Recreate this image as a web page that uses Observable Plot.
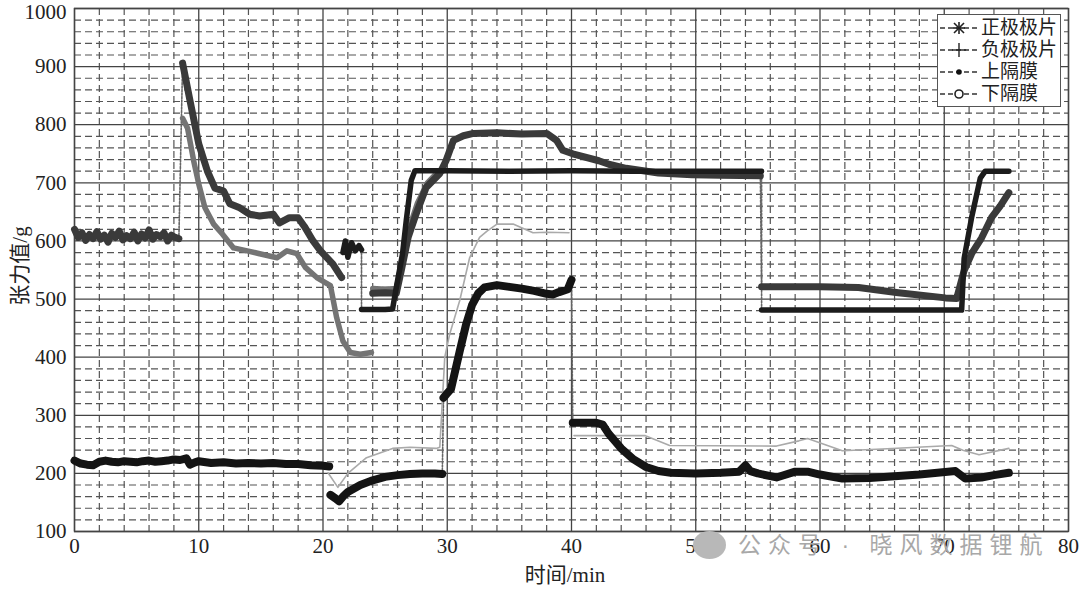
<!DOCTYPE html>
<html>
<head>
<meta charset="utf-8">
<script src="https://cdn.jsdelivr.net/npm/d3@7"></script>
<script src="https://cdn.jsdelivr.net/npm/@observablehq/plot@0.6"></script>
<style>
  body { margin: 0; background: #fff; }
  #wrap { position: relative; width: 1080px; height: 589px; overflow: hidden; }
  .lbl { position: absolute; font-family: "Liberation Serif", "Noto Sans CJK SC", serif; font-size: 21px; color: #222; white-space: nowrap; }
  #legend { position: absolute; left: 937px; top: 14px; width: 124px; height: 93px; background: #fff; border: 1px solid #555; box-sizing: border-box; }
  .li { position: absolute; left: 0; height: 22px; display: flex; align-items: center; }
  .li span { font-family: "Liberation Serif", "Noto Sans CJK SC", serif; font-size: 19px; line-height: 22px; color: #222; }
  #wm { position: absolute; left: 738px; top: 532px; line-height: 26px; font-family: "Liberation Sans", "Noto Sans CJK SC", sans-serif; font-size: 23px; letter-spacing: 7px; color: #a8a8a8; white-space: nowrap; }
  #logo { position: absolute; left: 693px; top: 531px; width: 33px; height: 28px; border-radius: 50%; background: #b8b8b8; }
</style>
</head>
<body>
<div id="wrap"></div>
<script>
// ---------- tick labels ----------
const xTicks = [0, 10, 20, 30, 40, 50, 60, 70, 80];
const yTicks = [100, 200, 300, 400, 500, 600, 700, 800, 900, 1000];

// null = break joined by a thin dotted link, NaN = plain break
// 正极极片
const pos_t = [0,0.3,0.6,0.9,1.2,1.5,1.8,2.1,2.4,2.7,3,3.3,3.6,3.9,4.2,4.5,4.8,5.1,5.4,5.7,6,6.3,6.6,6.9,7.2,7.5,7.8,8.1,8.4,
  8.5,
  8.7,9.3,10,10.7,11.3,12,12.5,13.3,14.1,14.9,16,16.5,17.3,18,18.5,19.2,19.8,20.8,21.5,
  22,
  24,25,25.9,26.3,26.85,27.5,28.3,29.4,29.9,30.5,31.3,32.1,34,36,38,38.8,39.3,40.1,42.2,43,44.4,47,49.7,52,55.2,
  55.25,
  55.3,60,63.1,66.3,70.1,71,71.6,72.2,73,73.8,74.5,75.2];
const pos_v = [620,606,614,601,611,604,616,603,610,598,613,606,617,602,609,604,615,600,612,605,619,603,611,607,614,600,610,606,604,
  null,
  906,841,767,720,691,686,664,657,646,643,646,631,640,640,625,600,583,560,537,
  NaN,
  510,511,510,549,606,647,692,716,738,773,781,785,786,784,785,773,756,750,738,732,725,717,714,713,712,
  null,
  521,521,520,511,502,501,549,578,605,640,660,683];

// 负极极片
const neg_t = [8.7,9.1,9.6,10,10.5,11.2,11.9,12.8,13.9,14.9,16.3,17.1,17.9,18.6,19.5,20.6,21.1,21.6,22.2,23,23.9,
  23.95,
  24,25,25.9,26.3,26.9,27.6,28.4,29.3,29.8];
const neg_v = [811,794,737,698,657,629,612,588,583,578,571,583,578,554,537,523,468,428,408,405,408,
  NaN,
  518,517,518,560,620,665,700,720,721];

// 上隔膜
const up_t = [21.6,21.8,22.0,22.3,22.6,22.9,23.1,
  23.1,
  23.1,24,25,25.6,25.9,26.4,26.7,27.1,27.4,30,35,40,45,50,55.3,
  55.3,
  55.3,60,65,71.4,71.6,72.2,72.9,73.3,75.2];
const up_v = [580,600,572,597,583,592,585,
  null,
  482,482,482,483,520,578,635,704,721,721,720,721,720,720,720,
  null,
  481,481,481,481,570,640,708,720,720];

// 下隔膜
const low_t = [0,0.5,1,1.5,2,2.5,3,3.5,4,4.5,5,5.5,6,6.5,7,7.5,8,8.5,9,9.3,9.7,10,11,12,13,14,15,16,17,18,19,20,20.5,
  20.55,
  20.6,21,21.3,21.6,22,23,24,25,26,27,28,29,29.6,
  29.65,
  29.7,30,30.3,31,31.5,32,32.5,33,34,35,36,37,38,38.5,39,39.7,40,
  40.05,
  40.1,42,42.5,43,44,45,46,47,48,50,52,53.5,54,54.4,55,56.5,58,59,60,61.8,64,66,68,70.9,71.7,73,74,75.2];
const low_v = [222,217,215,214,220,222,220,219,221,220,219,221,222,220,221,222,224,223,226,215,219,221,218,219,217,218,217,218,216,216,214,213,212,
  NaN,
  163,157,152,160,168,180,188,194,197,199,200,200,199,
  null,
  330,338,345,410,455,490,510,520,524,521,518,514,509,508,512,517,533,
  null,
  287,287,284,268,243,224,211,204,201,200,201,203,214,204,200,193,203,203,198,191,192,195,198,204,191,193,197,201];

// thin light-grey trace (unlabelled)
const thin_t = [20.4,21.2,22,23.5,25.6,27,29.1,29.4,29.8,30.2,31,31.8,32.6,33.2,34,35.3,36.9,38,39.8,
  40,
  40.2,45.9,47.9,56.5,58.3,59,61.8,65,70.6,71.5,72.8,75.2];
const thin_v = [201,176,200,227,243,245,243,245,400,440,497,571,606,617,629,629,614,615,614,
  NaN,
  265,265,248,247,256,260,239,242,248,240,232,243];

// ---------- build ----------
const rows = (T, V) => T.map((t, i) => ({t, v: V[i]}));
function links(T, V, name) {
  const out = [];
  V.forEach((v, i) => {
    if (v === null && i > 0 && i < V.length - 1) {
      out.push({t: T[i - 1], v: V[i - 1], k: name + i});
      out.push({t: T[i + 1], v: V[i + 1], k: name + i});
    }
  });
  return out;
}
const linkData = [
  ...links(pos_t, pos_v, "pos"),
  ...links(up_t, up_v, "up"),
  ...links(low_t, low_v, "low")
];

const minorX = d3.range(0, 81, 2).filter(d => d % 10 !== 0);
const minorY = d3.range(100, 1001, 20).filter(d => d % 100 !== 0);
const fmt = d => String(d);
const SERIF = "Liberation Serif, DejaVu Serif, serif";

const chart = Plot.plot({
  width: 1080,
  height: 589,
  marginLeft: 74,
  marginRight: 12,
  marginTop: 8,
  marginBottom: 58,
  style: {background: "#fff", fontFamily: SERIF, fontSize: "21px", color: "#222"},
  x: {domain: [0, 80]},
  y: {domain: [100, 1000]},
  marks: [
    Plot.ruleX(minorX, {stroke: "#555", strokeWidth: 1.2, strokeDasharray: "7,4"}),
    Plot.ruleY(minorY, {stroke: "#555", strokeWidth: 1.2, strokeDasharray: "7,4"}),
    Plot.ruleX(xTicks, {stroke: "#444", strokeWidth: 1.3}),
    Plot.ruleY(yTicks, {stroke: "#444", strokeWidth: 1.3}),
    Plot.frame({stroke: "#444", strokeWidth: 1.4}),
    Plot.axisX(xTicks, {tickSize: 0, tickPadding: 7, tickFormat: fmt, label: null, fontSize: 21}),
    Plot.axisY(yTicks.slice(0, -1), {tickSize: 0, tickPadding: 8, tickFormat: fmt, label: null, fontSize: 21}),
    Plot.axisY(yTicks.slice(-1), {tickSize: 0, tickPadding: 8, tickFormat: fmt, label: null, fontSize: 21, dy: 4}),
    Plot.line(linkData, {x: "t", y: "v", z: "k", stroke: "#666", strokeWidth: 1.6, strokeDasharray: "2,1.5"}),
    Plot.line(rows(thin_t, thin_v), {x: "t", y: "v", stroke: "#aaa", strokeWidth: 1.6}),
    Plot.line(rows(neg_t, neg_v), {x: "t", y: "v", stroke: "#747474", strokeWidth: 5.5}),
    Plot.line(rows(pos_t, pos_v), {x: "t", y: "v", stroke: "#3a3a3a", strokeWidth: 7}),
    Plot.line(rows(up_t, up_v), {x: "t", y: "v", stroke: "#1c1c1c", strokeWidth: 5.5}),
    Plot.line(rows(low_t, low_v), {x: "t", y: "v", stroke: "#141414", strokeWidth: 8})
  ]
});
chart.setAttribute("font-family", SERIF);
chart.querySelectorAll("g, text").forEach(el => {
  if (el.hasAttribute("font-family")) el.setAttribute("font-family", SERIF);
});
chart.querySelectorAll("text").forEach(el => {
  el.style.fontFamily = SERIF;
  el.style.fontSize = "21px";
  el.style.fill = "#222";
});

const wrap = document.getElementById("wrap");
wrap.appendChild(chart);

// axis titles
const yl = document.createElement("div");
yl.className = "lbl";
yl.textContent = "张力值/g";
yl.style.left = "18px"; yl.style.top = "266px";
yl.style.transform = "translate(-50%,-50%) rotate(-90deg)";
wrap.appendChild(yl);

const xl = document.createElement("div");
xl.className = "lbl";
xl.textContent = "时间/min";
xl.style.left = "565px"; xl.style.top = "573px";
xl.style.transform = "translate(-50%,-50%)";
wrap.appendChild(xl);

// legend
const legendNames = ["正极极片", "负极极片", "上隔膜", "下隔膜"];
const legendMarks = [
  '<g stroke="#222" stroke-width="1.6"><line x1="16" y1="6" x2="26" y2="16"/><line x1="26" y1="6" x2="16" y2="16"/><line x1="21" y1="5" x2="21" y2="17"/><line x1="15" y1="11" x2="27" y2="11"/></g>',
  '<g stroke="#222" stroke-width="1.4"><line x1="21" y1="4" x2="21" y2="18"/><line x1="14" y1="11" x2="28" y2="11"/></g>',
  '<circle cx="21" cy="11" r="2.8" fill="#111"/>',
  '<circle cx="21" cy="11" r="4" fill="#fff" stroke="#222" stroke-width="1.6"/>'
];
const lg = document.createElement("div");
lg.id = "legend";
legendNames.forEach((name, i) => {
  const item = document.createElement("div");
  item.className = "li";
  item.style.top = (2 + i * 22) + "px";
  item.innerHTML = '<svg width="42" height="22" style="margin-right:1px"><line x1="2" y1="11" x2="40" y2="11" stroke="#333" stroke-width="1.3" stroke-dasharray="5,3"/>' + legendMarks[i] + '</svg><span>' + name + '</span>';
  lg.appendChild(item);
});
wrap.appendChild(lg);

// watermark
const logo = document.createElement("div");
logo.id = "logo";
wrap.appendChild(logo);
const wm = document.createElement("div");
wm.id = "wm";
wm.textContent = "公众号 · 晓风数据锂航";
wrap.appendChild(wm);
</script>
</body>
</html>
